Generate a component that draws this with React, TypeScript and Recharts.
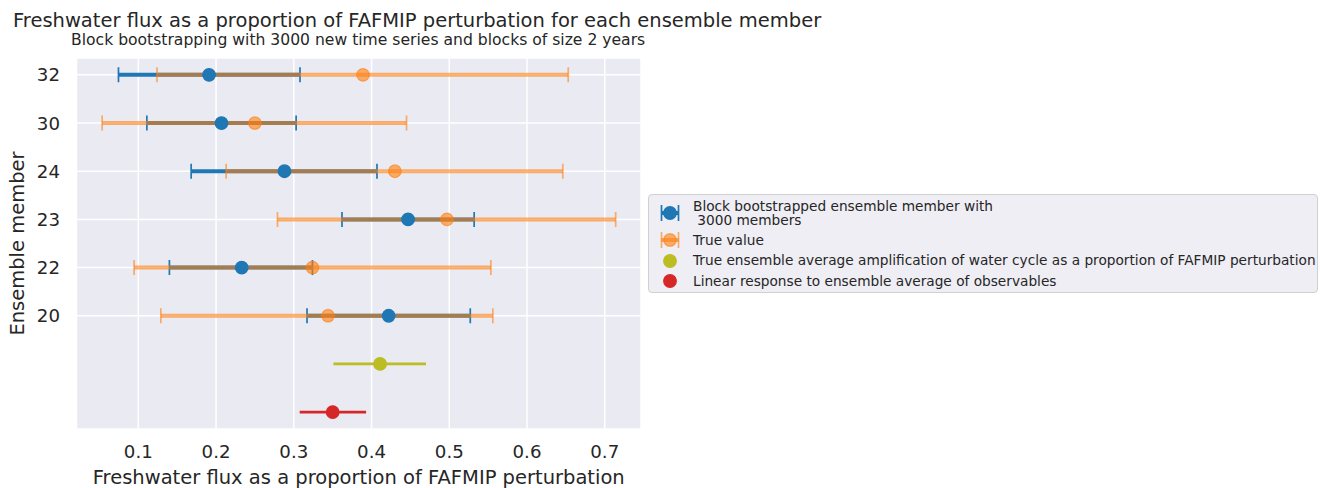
import React from "react";
import { CartesianGrid, Label, Scatter, ScatterChart, XAxis, YAxis } from "recharts";

// ensemble members, top to bottom
const members = ["32", "30", "24", "23", "22", "20"];

// block bootstrapped estimate (blue)
const bootValue = [0.191, 0.207, 0.288, 0.447, 0.233, 0.422];
const bootLow = [0.0745, 0.111, 0.168, 0.362, 0.14, 0.317];
const bootHigh = [0.308, 0.303, 0.407, 0.532, 0.324, 0.527];

// true value (orange)
const trueValue = [0.389, 0.25, 0.43, 0.497, 0.324, 0.344];
const trueLow = [0.124, 0.0535, 0.213, 0.279, 0.0946, 0.129];
const trueHigh = [0.653, 0.445, 0.646, 0.714, 0.5535, 0.556];

// ensemble average rows: [low, value, high]
const ensembleAvg = [0.351, 0.411, 0.47];
const linearResponse = [0.3076, 0.35, 0.393];

const xTicks = [0.1, 0.2, 0.3, 0.4, 0.5, 0.6, 0.7];

const FONT = '"DejaVu Sans", sans-serif';
const INK = "#262626";
const BLUE = "#1f77b4";
const ORANGE = "#ff7f0e";
const OLIVE = "#bcbd22";
const RED = "#d62728";
const ALPHA = 0.6;

const rowOf = (i: number) => members.length + 1 - i;
const yTicks = members.map((_, i) => rowOf(i)).reverse();

const makeCap = (color: string, opacity: number) => (p: any) => (
  <line x1={p.cx} x2={p.cx} y1={p.cy - 7.5} y2={p.cy + 7.5} stroke={color} strokeOpacity={opacity} strokeWidth={1.7} />
);
const makeDot = (color: string, opacity: number) => (p: any) => (
  <circle cx={p.cx} cy={p.cy} r={6.3} fill={color} fillOpacity={opacity} stroke={color} strokeOpacity={opacity} strokeWidth={1.2} />
);
const noShape = () => <g />;

const barRow = (lo: number, hi: number, y: number) => [
  { x: lo, y },
  { x: hi, y },
];

const LegendIcon = ({ color, opacity, bar }: { color: string; opacity: number; bar: boolean }) => (
  <svg width={20} height={18} style={{ position: "absolute", left: -33, top: -9 }}>
    {bar && (
      <g stroke={color} strokeOpacity={opacity}>
        <line x1={1} x2={19} y1={9} y2={9} strokeWidth={4} />
        <line x1={1.5} x2={1.5} y1={1} y2={17} strokeWidth={1.7} />
        <line x1={18.5} x2={18.5} y1={1} y2={17} strokeWidth={1.7} />
      </g>
    )}
    <circle cx={10} cy={9} r={6.3} fill={color} fillOpacity={opacity} stroke={color} strokeOpacity={opacity} strokeWidth={1.2} />
  </svg>
);

const legendItems = [
  { lines: ["Block bootstrapped ensemble member with", "\u00a03000 members"], color: BLUE, opacity: 1, bar: true, y: 213 },
  { lines: ["True value"], color: ORANGE, opacity: ALPHA, bar: true, y: 240 },
  {
    lines: ["True ensemble average amplification of water cycle as a proportion of FAFMIP perturbation"],
    color: OLIVE,
    opacity: 1,
    bar: false,
    y: 260.5,
  },
  { lines: ["Linear response to ensemble average of observables"], color: RED, opacity: 1, bar: false, y: 281 },
];

const App = () => {
  const tick = { fill: INK, fontSize: 18.2, fontFamily: FONT };
  return (
    <div style={{ position: "absolute", left: 0, top: 0, width: 1320, height: 488, background: "#fff", fontFamily: FONT, overflow: "hidden" }}>
      <div style={{ position: "absolute", left: 13, top: 9.2, fontSize: 19.5, color: INK, whiteSpace: "nowrap" }}>
        Freshwater flux as a proportion of FAFMIP perturbation for each ensemble member
      </div>
      <div style={{ position: "absolute", left: 71, top: 31.2, fontSize: 15.6, color: INK, whiteSpace: "nowrap" }}>
        Block bootstrapping with 3000 new time series and blocks of size 2 years
      </div>
      <ScatterChart width={1320} height={488} margin={{ top: 58, right: 679, bottom: 0, left: 0 }} style={{ position: "absolute", left: 0, top: 0 }}>
        <CartesianGrid fill="#eaeaf2" stroke="#ffffff" strokeWidth={1.5} />
        <XAxis
          type="number"
          dataKey="x"
          domain={[0.0205, 0.7466]}
          ticks={xTicks}
          allowDataOverflow
          axisLine={false}
          tickLine={false}
          tickSize={0}
          tickMargin={16}
          height={59}
          tick={tick}
          tickFormatter={(v: number) => v.toFixed(1)}
        >
          <Label value="Freshwater flux as a proportion of FAFMIP perturbation" position="insideBottom" offset={4.5} fill={INK} fontSize={19.5} fontFamily={FONT} />
        </XAxis>
        <YAxis
          type="number"
          dataKey="y"
          domain={[-0.35, 7.35]}
          ticks={yTicks}
          allowDataOverflow
          axisLine={false}
          tickLine={false}
          tickSize={0}
          tickMargin={16.5}
          width={76.5}
          tick={tick}
          tickFormatter={(v: number) => members[rowOf(0) - v]}
        >
          <Label value="Ensemble member" angle={-90} position="insideLeft" offset={17.5} fill={INK} fontSize={19.5} fontFamily={FONT} style={{ textAnchor: "middle" }} />
        </YAxis>

        {members.map((m, i) => (
          <Scatter
            key={"bb" + m}
            data={barRow(bootLow[i], bootHigh[i], rowOf(i))}
            line={{ stroke: BLUE, strokeWidth: 4 }}
            shape={makeCap(BLUE, 1)}
            isAnimationActive={false}
          />
        ))}
        {members.map((m, i) => (
          <Scatter
            key={"tb" + m}
            data={barRow(trueLow[i], trueHigh[i], rowOf(i))}
            line={{ stroke: ORANGE, strokeWidth: 4, strokeOpacity: ALPHA }}
            shape={makeCap(ORANGE, ALPHA)}
            isAnimationActive={false}
          />
        ))}
        <Scatter
          data={barRow(ensembleAvg[0], ensembleAvg[2], 1)}
          line={{ stroke: OLIVE, strokeWidth: 2.8 }}
          shape={noShape}
          isAnimationActive={false}
        />
        <Scatter
          data={barRow(linearResponse[0], linearResponse[2], 0)}
          line={{ stroke: RED, strokeWidth: 2.8 }}
          shape={noShape}
          isAnimationActive={false}
        />
        <Scatter
          data={trueValue.map((v, i) => ({ x: v, y: rowOf(i) }))}
          shape={makeDot(ORANGE, ALPHA)}
          isAnimationActive={false}
        />
        <Scatter
          data={bootValue.map((v, i) => ({ x: v, y: rowOf(i) }))}
          shape={makeDot(BLUE, 1)}
          isAnimationActive={false}
        />
        <Scatter data={[{ x: ensembleAvg[1], y: 1 }]} shape={makeDot(OLIVE, 1)} isAnimationActive={false} />
        <Scatter data={[{ x: linearResponse[1], y: 0 }]} shape={makeDot(RED, 1)} isAnimationActive={false} />
      </ScatterChart>

      <div
        style={{
          position: "absolute",
          left: 648,
          top: 194,
          width: 668,
          height: 97,
          background: "#eeeef4",
          border: "1.5px solid #d0d0d0",
          borderRadius: 4,
        }}
      />
      {legendItems.map((item) => (
        <div key={item.lines[0]} style={{ position: "absolute", left: 693, top: item.y, fontSize: 13.7, color: INK, whiteSpace: "pre" }}>
          <LegendIcon color={item.color} opacity={item.opacity} bar={item.bar} />
          <div style={{ position: "absolute", left: 0, top: -(item.lines.length * 14.3) / 2, lineHeight: "14.3px" }}>
            {item.lines.map((l) => (
              <div key={l}>{l}</div>
            ))}
          </div>
        </div>
      ))}
    </div>
  );
};

export default App;
